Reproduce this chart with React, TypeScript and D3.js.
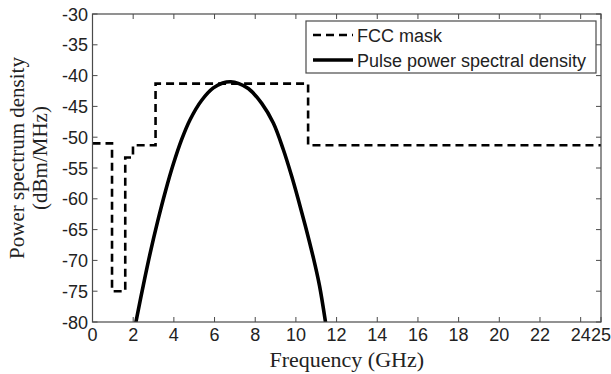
import React from "react";
import * as d3 from "d3";

const xTicks = [0, 2, 4, 6, 8, 10, 12, 14, 16, 18, 20, 22, 24, 25];
const yTicks = [-30, -35, -40, -45, -50, -55, -60, -65, -70, -75, -80];

// FCC indoor mask (step function): [freq GHz, dBm/MHz]
const fccFreq = [0, 0.96, 0.96, 1.61, 1.61, 1.99, 1.99, 3.1, 3.1, 10.6, 10.6, 25];
const fccLevel = [-51, -51, -75, -75, -53.3, -53.3, -51.3, -51.3, -41.3, -41.3, -51.3, -51.3];

// Pulse power spectral density
const psdFreq = [2.1, 2.17, 2.5, 2.83, 3.2, 3.6, 3.97, 4.38, 4.79, 5.37, 5.94, 6.4, 6.8, 7.2, 7.66, 8.32, 8.89, 9.38, 9.79, 10.1, 10.45, 10.86, 11.16, 11.45, 11.48];
const psdLevel = [-80.6, -79.4, -74.0, -68.9, -63.7, -58.6, -54.4, -50.4, -47.2, -44.0, -42.0, -41.2, -41.0, -41.3, -42.1, -44.5, -47.7, -52.0, -56.3, -59.9, -64.2, -69.6, -74.1, -79.9, -80.6];

const legendLabels = ["FCC mask", "Pulse power spectral density"];

const L = 92.5, R = 601, T = 14, B = 322;

export default function App() {
  const x = d3.scaleLinear().domain([0, 25]).range([L, R]);
  const y = d3.scaleLinear().domain([-80, -30]).range([B, T]);
  const fccLine = d3.line<number>().x((_, i) => x(fccFreq[i])).y((_, i) => y(fccLevel[i]));
  const psdLine = d3
    .line<number>()
    .x((_, i) => x(psdFreq[i]))
    .y((_, i) => y(psdLevel[i]))
    .curve(d3.curveCatmullRom);
  const axisColor = "#4a4a4a";
  const sans = "Liberation Sans, Arial, sans-serif";
  const serif = "Liberation Serif, Times New Roman, serif";
  return (
    <svg width={611} height={374} style={{ position: "absolute", left: 0, top: 0, background: "#fff" }}>
      <defs>
        <clipPath id="plot">
          <rect x={L} y={T} width={R - L} height={B - T} />
        </clipPath>
      </defs>
      <rect x={0} y={0} width={611} height={374} fill="#fff" />
      <g clipPath="url(#plot)">
        <path d={fccLine(fccFreq) || ""} fill="none" stroke="#000" strokeWidth={2.6} strokeDasharray="8,5" />
        <path d={psdLine(psdFreq) || ""} fill="none" stroke="#000" strokeWidth={3.6} />
      </g>
      <rect x={L} y={T} width={R - L} height={B - T} fill="none" stroke={axisColor} strokeWidth={1.2} />
      {xTicks.map((t) => (
        <g key={"x" + t}>
          <line x1={x(t)} x2={x(t)} y1={B} y2={B - 5} stroke={axisColor} />
          <line x1={x(t)} x2={x(t)} y1={T} y2={T + 5} stroke={axisColor} />
          <text x={x(t)} y={341} textAnchor="middle" fontFamily={sans} fontSize={18} fill="#222">
            {t}
          </text>
        </g>
      ))}
      {yTicks.map((t) => (
        <g key={"y" + t}>
          <line x1={L} x2={L + 5} y1={y(t)} y2={y(t)} stroke={axisColor} />
          <line x1={R} x2={R - 5} y1={y(t)} y2={y(t)} stroke={axisColor} />
          <text x={88} y={y(t) + 6.5} textAnchor="end" fontFamily={sans} fontSize={18} fill="#222">
            {t}
          </text>
        </g>
      ))}
      <text x={(L + R) / 2} y={367} textAnchor="middle" fontFamily={serif} fontSize={22} fill="#222">
        Frequency (GHz)
      </text>
      <g transform="translate(0,158) rotate(-90)">
        <text x={0} y={24} textAnchor="middle" fontFamily={serif} fontSize={21} fill="#222">
          Power spectrum density
        </text>
        <text x={0} y={47} textAnchor="middle" fontFamily={serif} fontSize={21} fill="#222">
          (dBm/MHz)
        </text>
      </g>
      <g>
        <rect x={306} y={21} width={290} height={52} fill="#fff" stroke={axisColor} strokeWidth={1.2} />
        <line x1={313} x2={353} y1={35} y2={35} stroke="#000" strokeWidth={2.6} strokeDasharray="8,5" />
        <line x1={313} x2={353} y1={60} y2={60} stroke="#000" strokeWidth={3.6} />
        <text x={357} y={41.5} fontFamily={sans} fontSize={18} fill="#222">
          {legendLabels[0]}
        </text>
        <text x={357} y={66.5} fontFamily={sans} fontSize={18} fill="#222">
          {legendLabels[1]}
        </text>
      </g>
    </svg>
  );
}
